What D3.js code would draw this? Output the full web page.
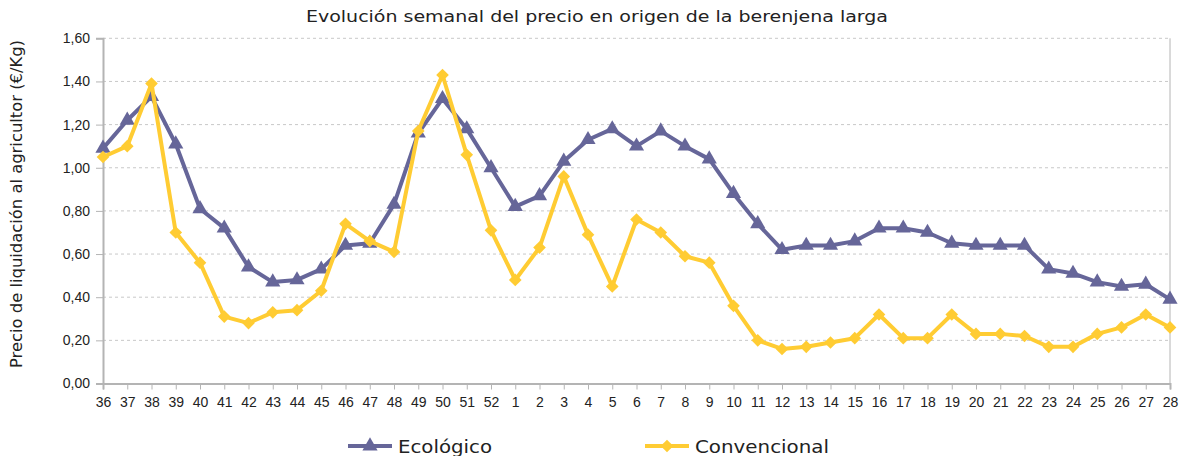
<!DOCTYPE html>
<html>
<head>
<meta charset="utf-8">
<script src="https://cdn.jsdelivr.net/npm/d3@7"></script>
<style>
  body { margin: 0; background: #fff; }
  svg { display: block; }
  .tick text { font-family: "Liberation Sans", Arial, sans-serif; font-size: 14px; fill: #222; }
</style>
</head>
<body>
<svg id="chart" width="1188" height="456"></svg>
<script>
const weeks = ["36","37","38","39","40","41","42","43","44","45","46","47","48","49","50","51","52",
  "1","2","3","4","5","6","7","8","9","10","11","12","13","14","15","16","17","18","19","20",
  "21","22","23","24","25","26","27","28"];

const ecologico = [1.09,1.22,1.33,1.11,0.81,0.72,0.54,0.47,0.48,0.53,0.64,0.65,0.83,1.16,1.32,1.18,1.00,
  0.82,0.87,1.03,1.13,1.18,1.10,1.17,1.10,1.04,0.88,0.74,0.62,0.64,0.64,0.66,0.72,0.72,0.70,0.65,0.64,
  0.64,0.64,0.53,0.51,0.47,0.45,0.46,0.39];

const convencional = [1.05,1.10,1.39,0.70,0.56,0.31,0.28,0.33,0.34,0.43,0.74,0.66,0.61,1.17,1.43,1.06,0.71,
  0.48,0.63,0.96,0.69,0.45,0.76,0.70,0.59,0.56,0.36,0.20,0.16,0.17,0.19,0.21,0.32,0.21,0.21,0.32,0.23,
  0.23,0.22,0.17,0.17,0.23,0.26,0.32,0.26];

const yTicks = [0, 0.2, 0.4, 0.6, 0.8, 1.0, 1.2, 1.4, 1.6];

const purple = "#666699", yellow = "#FFCC33";
const plotLeft = 103, plotRight = 1170, plotTop = 38.3, plotBottom = 383.5;
const labelFont = "'DejaVu Sans', sans-serif";

const svg = d3.select("#chart");

const x = d3.scalePoint().domain(weeks).range([plotLeft, plotRight]);
const y = d3.scaleLinear().domain([0, 1.6]).range([plotBottom, plotTop]);
const fmt = (d) => d3.format(".2f")(d).replace(".", ",");

// gridlines
svg.append("g")
  .selectAll("line")
  .data(yTicks.filter((d) => d > 0))
  .enter()
  .append("line")
  .attr("x1", plotLeft).attr("x2", plotRight)
  .attr("y1", (d) => y(d)).attr("y2", (d) => y(d))
  .style("stroke", "#c8c8c8")
  .style("stroke-dasharray", "3,3");

// right border
svg.append("line")
  .attr("x1", plotRight).attr("x2", plotRight).attr("y1", plotTop).attr("y2", plotBottom)
  .style("stroke", "#b4b4b4");

const yAxis = svg.append("g")
  .attr("transform", `translate(${plotLeft},0)`)
  .call(d3.axisLeft(y).tickValues(yTicks).tickFormat(fmt).tickSize(7).tickPadding(6));

const xAxis = svg.append("g")
  .attr("transform", `translate(0,${plotBottom})`)
  .call(d3.axisBottom(x).tickSize(6).tickPadding(8));

[yAxis, xAxis].forEach((a) => {
  a.select(".domain").style("stroke", "#b4b4b4").style("stroke-width", 2);
  a.selectAll(".tick line").style("stroke", "#b4b4b4");
});

const line = d3.line().x((d, i) => x(weeks[i])).y((d) => y(d));

const triangle = d3.symbol().type(d3.symbolTriangle).size(100);
const diamond = d3.symbol().type(d3.symbolSquare).size(80);

function drawSeries(values, color, shape, rotate) {
  svg.append("path")
    .datum(values)
    .attr("d", line)
    .style("fill", "none")
    .style("stroke", color)
    .style("stroke-width", 4)
    .style("stroke-linejoin", "round");
  svg.append("g")
    .selectAll("path")
    .data(values)
    .enter()
    .append("path")
    .attr("d", shape)
    .attr("transform", (d, i) => `translate(${x(weeks[i])},${y(d)}) rotate(${rotate})`)
    .style("fill", color);
}

drawSeries(ecologico, purple, triangle, 0);
drawSeries(convencional, yellow, diamond, 45);

// title
svg.append("text")
  .attr("x", 306).attr("y", 22)
  .attr("textLength", 582)
  .attr("lengthAdjust", "spacingAndGlyphs")
  .style("font-family", labelFont)
  .style("font-size", "16px")
  .style("fill", "#222")
  .text("Evolución semanal del precio en origen de la berenjena larga");

// y label
svg.append("text")
  .attr("transform", "translate(22,368) rotate(-90)")
  .attr("textLength", 328)
  .attr("lengthAdjust", "spacingAndGlyphs")
  .style("font-family", labelFont)
  .style("font-size", "15px")
  .style("fill", "#222")
  .text("Precio de liquidación al agricultor (€/Kg)");

// legend
const legend = [
  { name: "Ecológico", color: purple, shape: triangle, rot: 0, x: 348, w: 94 },
  { name: "Convencional", color: yellow, shape: diamond, rot: 45, x: 645, w: 134 }
];
const lg = svg.append("g")
  .selectAll("g")
  .data(legend)
  .enter()
  .append("g")
  .attr("transform", (d) => `translate(${d.x},446)`);
lg.append("line")
  .attr("x1", 0).attr("x2", 44)
  .style("stroke", (d) => d.color)
  .style("stroke-width", 4);
lg.append("path")
  .attr("d", (d) => d.shape())
  .attr("transform", (d) => `translate(22,0) rotate(${d.rot})`)
  .style("fill", (d) => d.color);
lg.append("text")
  .attr("x", 50).attr("y", 7)
  .attr("textLength", (d) => d.w)
  .attr("lengthAdjust", "spacingAndGlyphs")
  .style("font-family", labelFont)
  .style("font-size", "18px")
  .style("fill", "#222")
  .text((d) => d.name);
</script>
</body>
</html>
